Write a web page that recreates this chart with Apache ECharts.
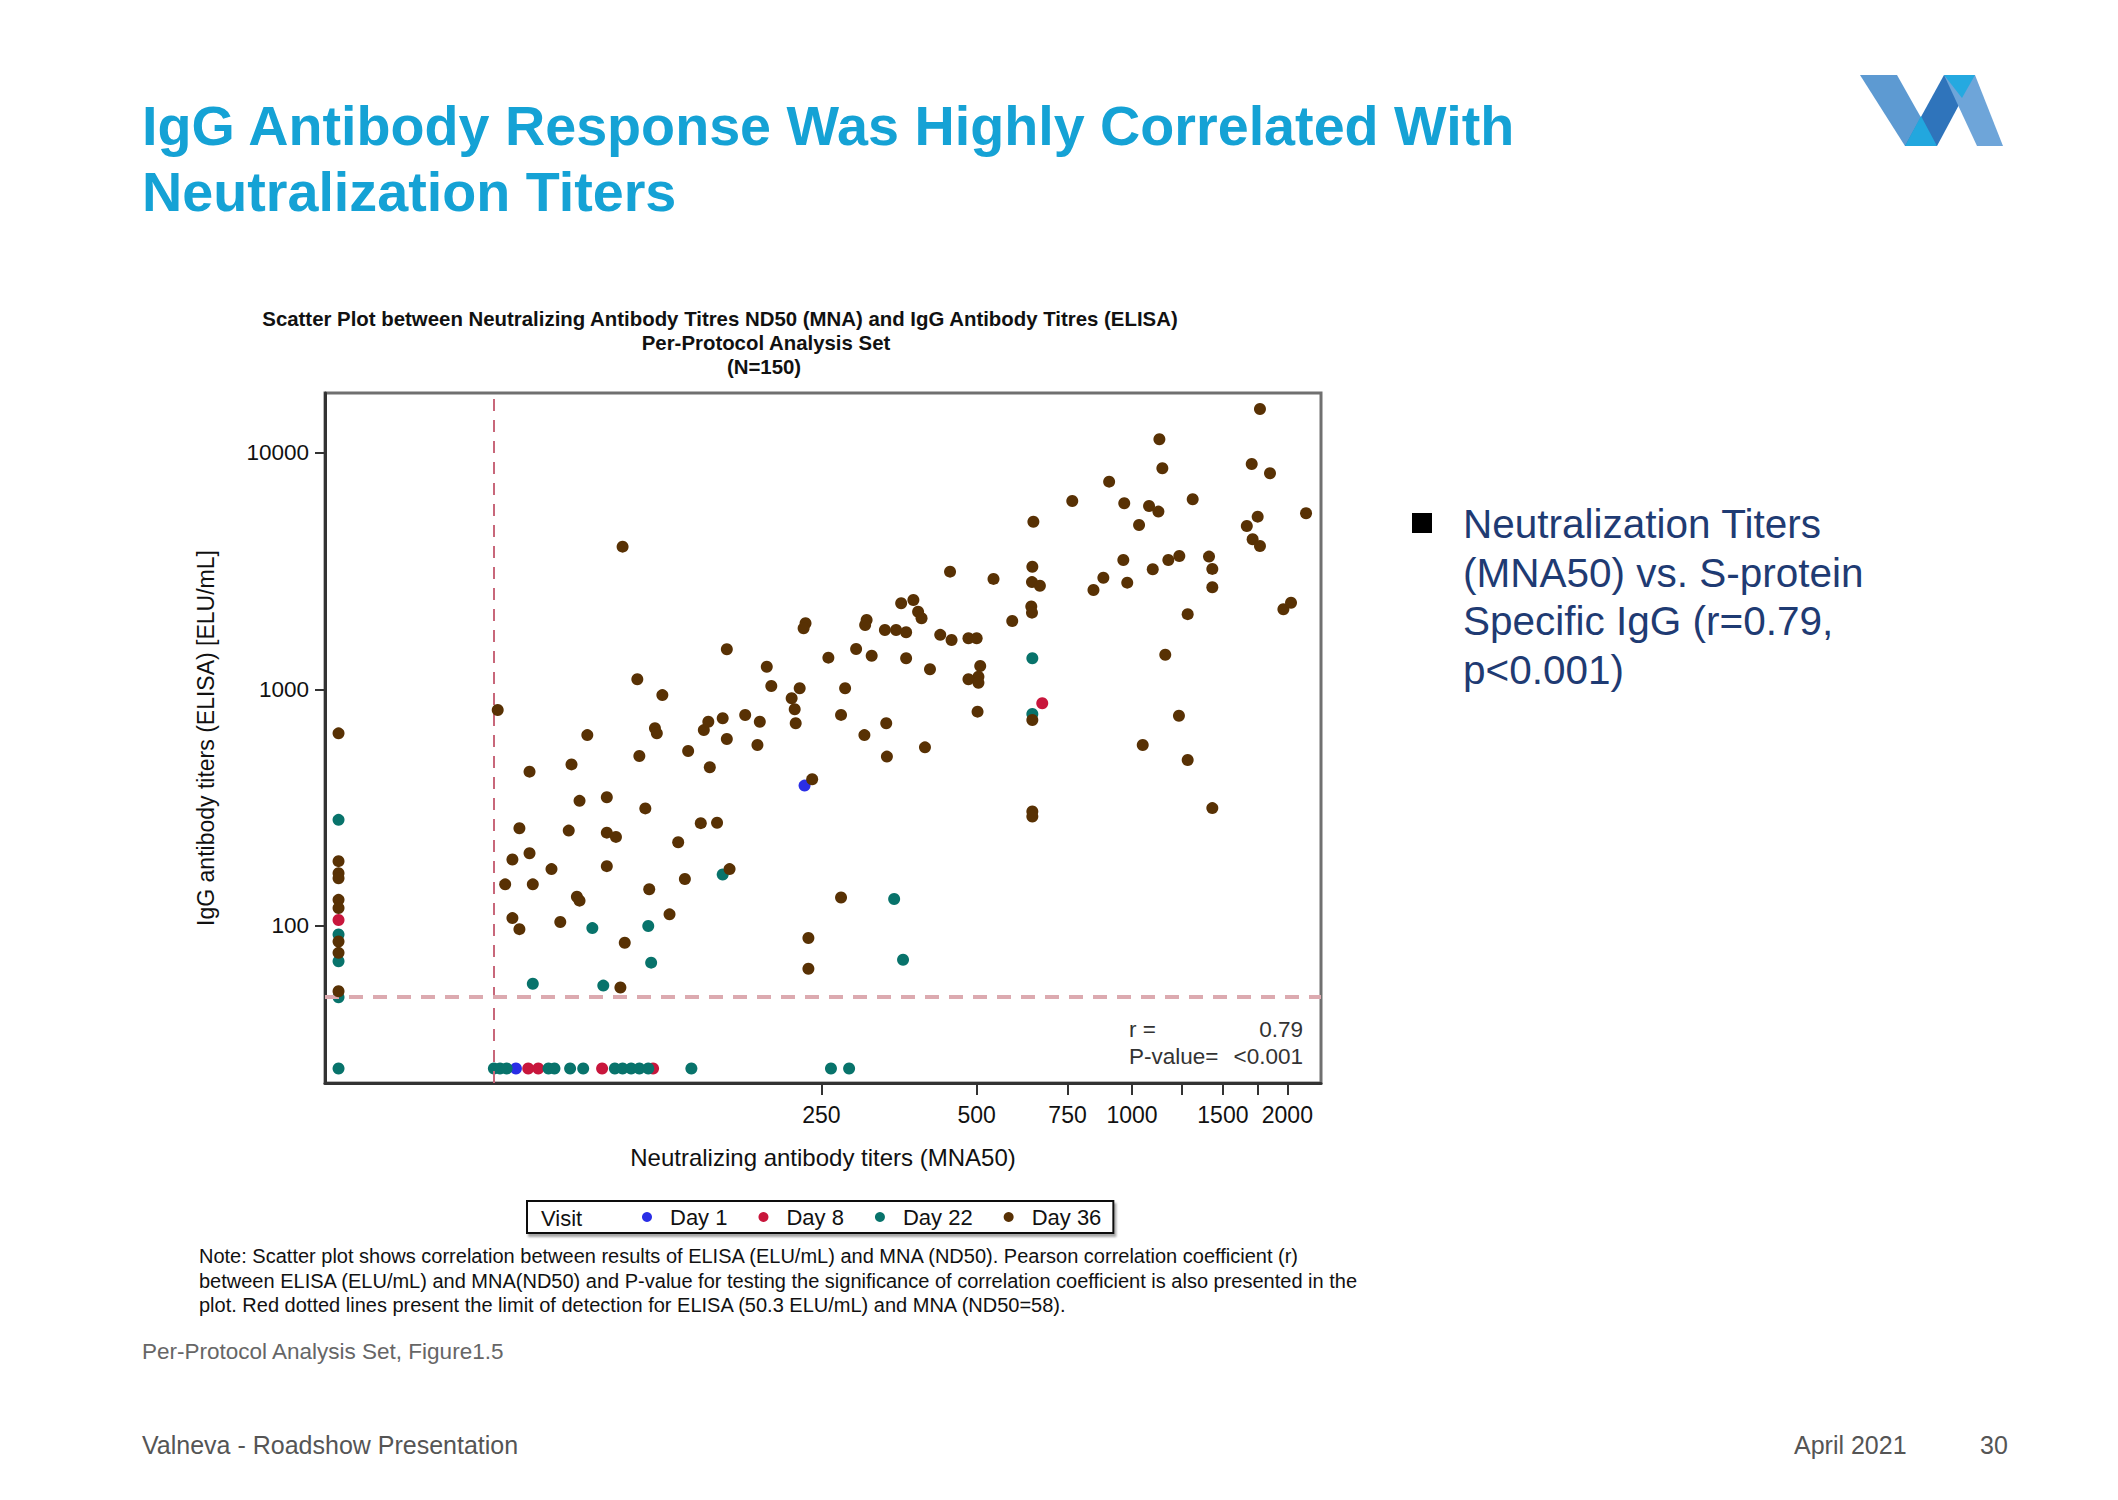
<!DOCTYPE html>
<html>
<head>
<meta charset="utf-8">
<script src="https://cdn.jsdelivr.net/npm/echarts@6/dist/echarts.min.js"></script>
<style>html,body{margin:0;padding:0;background:#fff}#c{width:2118px;height:1500px}</style>
</head>
<body>
<div id="c"></div>
<script>
// ---------------- DATA ----------------
const visits = ['Day 1', 'Day 8', 'Day 22', 'Day 36'];

// [MNA50, ELISA]
const day1 = [[64,25],[232,392]];
const day8 = [[29,106],[67.6,25],[70.7,25],[94,25],[118,25],[670,874]];
const day22 = [[29,281],[29,92],[29,71],[29,50],[29,25],[58,25],[59.6,25],[61.4,25],[74,25],[76,25],[81.5,25],[86.4,25],
  [99.5,25],[103,25],[107,25],[111,25],[115.5,25],[140,25],[261,25],[283,25],[161,165],[90,98],[115.5,100],[117,70],
  [69,57],[94.5,56],[346,130],[360,72],[641,1353],[641,787]];
const day36 = [[29,652],[29,188],[29,167],[29,159],[29,129],[29,119],[29,86],[29,77],[29,53],
  [59,818],[103,4010],[164,1477],[196,1247],[200,1034],[110,1103],[123,946],[88,641],[119,685],[120,652],[148,673],
  [151,730],[161,755],[178,779],[190,730],[164,617],[188,582],[68,449],[82,482],[111,523],[138,549],[152,469],[85,338],
  [96,350],[114,314],[65,259],[81,253],[96,248],[100,238],[146,272],[157,273],[132,226],[63,191],[68,203],[75,174],
  [96,179],[61,150],[69,150],[136,158],[166,174],[84,133],[85,128],[116,143],[127,112],[63,108],[65,97],[78,104],
  [104,85],[102,55],
  [1130,11400],[1145,8600],[903,7550],[766,6250],[966,6120],[1079,5960],[1125,5640],[1311,6360],[1032,4950],[644,5110],
  [641,3300],[640,2840],[663,2740],[638,2240],[640,2110],[586,1945],[444,3145],[539,2930],[842,2630],[880,2965],
  [962,3520],[979,2825],[1097,3220],[1176,3520],[1235,3660],[1410,3640],[1431,3230],[1431,2700],[1282,2080],[1160,1400],
  [1233,774],[641,742],[233,1903],[231,1811],[306,1966],[304,1871],[332,1783],[349,1783],[365,1743],[357,2311],
  [377,2387],[385,2130],[391,1998],[425,1700],[447,1618],[482,1644],[500,1644],[508,1256],[504,1132],[482,1103],
  [504,1067],[406,1216],[365,1353],[313,1388],[292,1482],[258,1362],[278,1011],[273,780],[334,719],[303,641],
  [502,805],[227,1011],[219,917],[222,824],[223,719],[335,520],[397,569],[1049,582],[240,417],[641,305],[641,290],
  [1282,503],[1431,315],[273,132],[236,89],[236,66],[1770,15300],[1706,8970],[1851,8190],[2174,5550],[1752,5370],
  [1669,4905],[1713,4309],[1770,4036],[1965,2181],[2033,2325]];

const xTickValues = [250, 500, 750, 1000, 1250, 1500, 1750, 2000];
const xLabelValues = [250, 500, 750, 1000, 1500, 2000];
const yTickValues = [100, 1000, 10000];
const mnaLimit = 58;      // limit of detection MNA (ND50)
const elisaLimit = 50.3;  // limit of detection ELISA (ELU/mL)
const corrR = '0.79';
const corrP = '<0.001';

// ---------------- CHART ----------------
const FONT = 'Liberation Sans, Arial, sans-serif';
const colors = ['#2a2ee6', '#c8163c', '#08736b', '#583104'];

const chart = echarts.init(document.getElementById('c'), null, {renderer: 'svg'});

function txt(x, y, text, size, opts) {
  opts = opts || {};
  return {
    type: 'text', silent: true, z: 100,
    style: {
      x: x, y: y, text: text,
      font: (opts.weight || 'normal') + ' ' + size + 'px ' + FONT,
      fill: opts.color || '#222',
      textAlign: opts.align || 'left', align: opts.align || 'left',
      textVerticalAlign: 'middle', verticalAlign: 'middle'
    }
  };
}

const seriesData = [day1, day8, day22, day36];

const option = {
  animation: false,
  backgroundColor: '#fff',
  textStyle: {fontFamily: FONT},
  grid: {left: 325, right: 797, top: 393, bottom: 417, show: true, borderColor: '#707070', borderWidth: 3},
  xAxis: {
    type: 'log', logBase: 10, min: 27.3, max: 2324,
    name: 'Neutralizing antibody titers (MNA50)', nameLocation: 'middle', nameGap: 62,
    nameTextStyle: {fontSize: 24, color: '#111', fontFamily: FONT},
    axisLine: {show: true, lineStyle: {color: '#333', width: 3}},
    axisTick: {show: true, length: 12, lineStyle: {color: '#333', width: 2}, customValues: xTickValues},
    axisLabel: {show: true, margin: 20, fontSize: 23, color: '#111', fontFamily: FONT,
      customValues: xLabelValues, formatter: v => String(Math.round(v))},
    splitLine: {show: false}, minorTick: {show: false}
  },
  yAxis: {
    type: 'log', logBase: 10, min: 21.7, max: 17890,
    name: 'IgG antibody titers (ELISA) [ELU/mL]', nameLocation: 'middle', nameGap: 108, nameRotate: 90,
    nameTextStyle: {fontSize: 23, color: '#111', fontFamily: FONT},
    axisLine: {show: true, lineStyle: {color: '#333', width: 3}},
    axisTick: {show: true, length: 10, lineStyle: {color: '#333', width: 2}, customValues: yTickValues},
    axisLabel: {show: true, margin: 16, fontSize: 22.5, color: '#111', fontFamily: FONT,
      customValues: yTickValues, formatter: v => String(Math.round(v))},
    splitLine: {show: false}
  },
  legend: {
    data: visits,
    left: 527, top: 1201,
    orient: 'horizontal',
    icon: 'circle', itemWidth: 36, itemHeight: 10, itemGap: 31,
    padding: [5, 12, 5, 115],
    borderColor: '#111', borderWidth: 2, backgroundColor: '#fff',
    shadowColor: 'rgba(0,0,0,0.35)', shadowOffsetX: 2, shadowOffsetY: 3, shadowBlur: 2,
    textStyle: {fontSize: 22, color: '#111', fontFamily: FONT},
    selectedMode: false
  },
  series: [
    {
      name: 'LOD', type: 'scatter', data: [], z: 1, silent: true,
      markLine: {
        silent: true, symbol: 'none', label: {show: false}, animation: false,
        data: [
          {xAxis: mnaLimit, lineStyle: {color: '#c8677a', width: 2, type: [12, 9]}},
          {yAxis: elisaLimit, lineStyle: {color: '#dcaab0', width: 4, type: [14, 10]}}
        ]
      }
    }
  ].concat(visits.map((name, i) => ({
    name: name, type: 'scatter', data: seriesData[i], z: 2 + i,
    symbol: 'circle', symbolSize: 12,
    itemStyle: {color: colors[i], opacity: 1},
    emphasis: {disabled: true}
  }))),
  graphic: [
    // slide title
    txt(142, 126, 'IgG Antibody Response Was Highly Correlated With', 55.7, {weight: 'bold', color: '#15a2d5'}),
    txt(142, 192, 'Neutralization Titers', 55.7, {weight: 'bold', color: '#15a2d5'}),
    // chart headers
    txt(720, 319, 'Scatter Plot between Neutralizing Antibody Titres ND50 (MNA) and IgG Antibody Titres (ELISA)', 20.4, {weight: 'bold', color: '#111', align: 'center'}),
    txt(766, 343, 'Per-Protocol Analysis Set', 20.4, {weight: 'bold', color: '#111', align: 'center'}),
    txt(764, 367, '(N=150)', 20.4, {weight: 'bold', color: '#111', align: 'center'}),
    // correlation box text
    txt(1129, 1029, 'r =', 22.5, {color: '#333'}),
    txt(1303, 1029, corrR, 22.5, {color: '#333', align: 'right'}),
    txt(1129, 1056, 'P-value=', 22.5, {color: '#333'}),
    txt(1303, 1056, corrP, 22.5, {color: '#333', align: 'right'}),
    // legend title
    txt(541, 1218, 'Visit', 22, {color: '#111'}),
    // note
    txt(199, 1256, 'Note: Scatter plot shows correlation between results of ELISA (ELU/mL) and MNA (ND50). Pearson correlation coefficient (r)', 20, {color: '#111'}),
    txt(199, 1281, 'between ELISA (ELU/mL) and MNA(ND50) and P-value for testing the significance of correlation coefficient is also presented in the', 20, {color: '#111'}),
    txt(199, 1305, 'plot. Red dotted lines present the limit of detection for ELISA (50.3 ELU/mL) and MNA (ND50=58).', 20, {color: '#111'}),
    txt(142, 1351, 'Per-Protocol Analysis Set, Figure1.5', 22.5, {color: '#666'}),
    // right bullet
    {type: 'rect', silent: true, z: 100, shape: {x: 1412, y: 513, width: 20, height: 20}, style: {fill: '#000'}},
    txt(1463, 524, 'Neutralization Titers', 40.5, {color: '#1f3b73'}),
    txt(1463, 573, '(MNA50) vs. S-protein', 40.5, {color: '#1f3b73'}),
    txt(1463, 621, 'Specific IgG (r=0.79,', 40.5, {color: '#1f3b73'}),
    txt(1463, 670, 'p<0.001)', 40.5, {color: '#1f3b73'}),
    // footer
    txt(142, 1445, 'Valneva - Roadshow Presentation', 25, {color: '#555'}),
    txt(1794, 1445, 'April 2021', 25, {color: '#555'}),
    txt(1980, 1445, '30', 25, {color: '#555'}),
    // logo
    {type: 'polygon', silent: true, shape: {points: [[1860,75],[1897,75],[1937,146],[1905,146]]}, style: {fill: '#5d9ad2'}},
    {type: 'polygon', silent: true, shape: {points: [[1905,146],[1937,146],[1975,75],[1944,75]]}, style: {fill: '#2f74bb'}},
    {type: 'polygon', silent: true, shape: {points: [[1905,146],[1937,146],[1921,116]]}, style: {fill: '#22a7de'}},
    {type: 'polygon', silent: true, shape: {points: [[1944,75],[1975,75],[2003,146],[1977,146]]}, style: {fill: '#6ea5d9'}},
    {type: 'polygon', silent: true, shape: {points: [[1944,75],[1975,75],[1962,98]]}, style: {fill: '#25a9e0'}}
  ]
};

chart.setOption(option);
</script>
</body>
</html>
